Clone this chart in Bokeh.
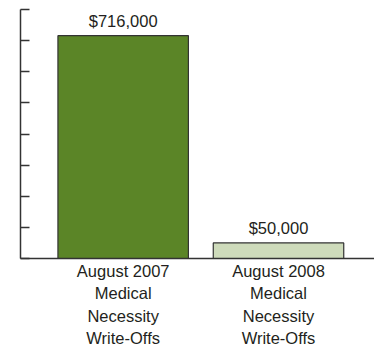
from bokeh.plotting import figure
from bokeh.models import Range1d, FixedTicker, ColumnDataSource
from bokeh.core.properties import value
from bokeh.embed import file_html
from bokeh.resources import INLINE

categories = ["August 2007\nMedical\nNecessity\nWrite-Offs",
              "August 2008\nMedical\nNecessity\nWrite-Offs"]
values = [716000, 50000]
value_labels = ["$716,000", "$50,000"]
colors = ["#5b8527", "#cedbbb"]
positions = [0, 1]
y_ticks = [0, 100000, 200000, 300000, 400000, 500000, 600000, 700000, 800000]

FONT = "Liberation Sans"
TXT = "#231f20"

src = ColumnDataSource(dict(x=positions, top=values, color=colors, label=value_labels))

p = figure(width=374, height=350, output_backend="svg", toolbar_location=None,
           x_range=Range1d(-0.661, 1.618), y_range=Range1d(0, 800000),
           min_border_left=20, min_border_right=0, min_border_top=9, min_border_bottom=91)
p.outline_line_color = None
p.xgrid.visible = False
p.ygrid.visible = False

p.vbar(x="x", top="top", width=0.84, bottom=0, fill_color="color",
       line_color="#333333", line_width=1.2, source=src)
p.text(x="x", y="top", text="label", source=src, text_align="center",
       text_baseline="bottom", y_offset=-6, text_font=value(FONT),
       text_font_size="16.5px", text_color=TXT)

# x axis
xa = p.xaxis[0]
xa.ticker = FixedTicker(ticks=positions)
xa.major_label_overrides = {pos: lab for pos, lab in zip(positions, categories)}
xa.major_tick_in = 0
xa.major_tick_out = 0
xa.minor_tick_line_color = None
xa.axis_line_color = "#333333"
xa.axis_line_width = 1.5
xa.major_label_text_font = FONT
xa.major_label_text_font_size = "16.5px"
xa.major_label_text_color = TXT
xa.major_label_standoff = 3
xa.major_label_text_line_height = 1.25

# y axis
ya = p.yaxis[0]
ya.ticker = FixedTicker(ticks=y_ticks)
ya.major_label_overrides = {t: "" for t in y_ticks}
ya.major_tick_in = 9
ya.major_tick_out = 0
ya.minor_tick_line_color = None
ya.major_label_standoff = 0
ya.axis_line_color = "#333333"
ya.axis_line_width = 1.5
ya.major_tick_line_color = "#333333"
ya.major_tick_line_width = 1.5

open("out.html", "w").write(file_html(p, INLINE))
